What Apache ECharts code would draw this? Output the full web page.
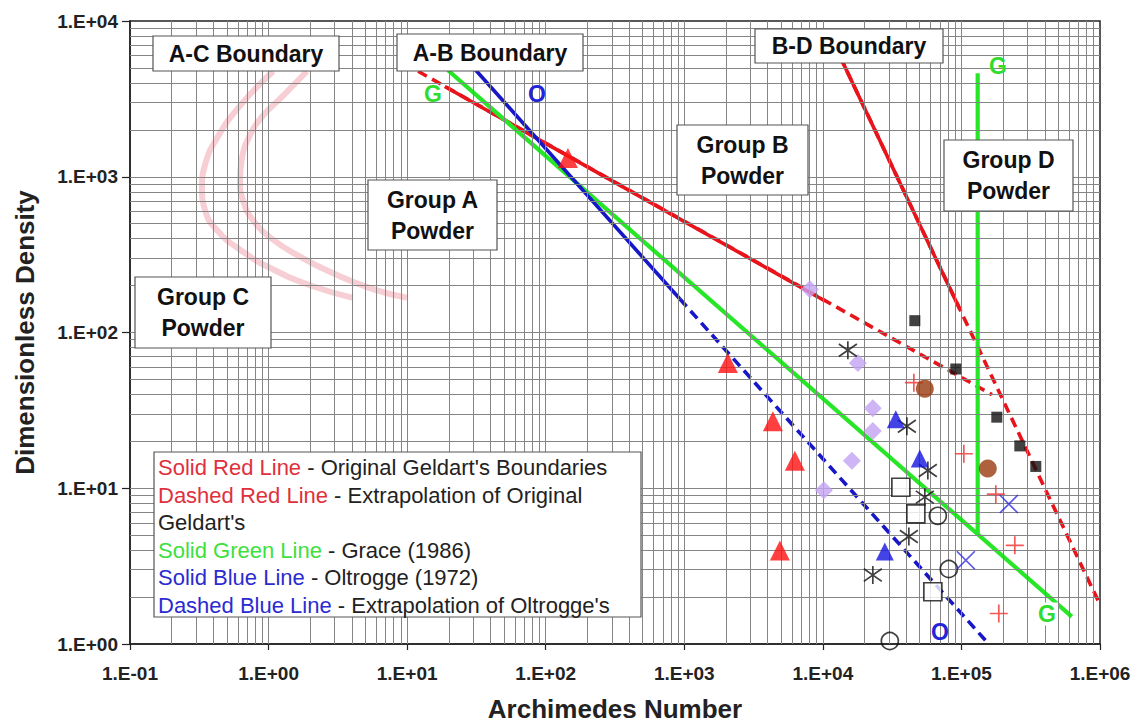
<!DOCTYPE html>
<html><head><meta charset="utf-8">
<script src="https://cdn.jsdelivr.net/npm/echarts@6/dist/echarts.min.js"></script>
<style>html,body{margin:0;padding:0;background:#fff}#c{width:1137px;height:727px}</style>
</head><body><div id="c"></div>
<script>
// ---------- tick labels ----------
const xTickLabels = ['1.E-01','1.E+00','1.E+01','1.E+02','1.E+03','1.E+04','1.E+05','1.E+06'];
const yTickLabels = ['1.E+00','1.E+01','1.E+02','1.E+03','1.E+04'];

// ---------- boundary lines [Archimedes number, dimensionless density] ----------
const acBoundaryLeft  = [[1.08,4755],[0.622,2856],[0.424,1766],[0.348,1191],[0.331,852],[0.348,609],[0.424,455],[0.622,340],[1.08,254],[2.09,198],[4.06,167]];
const acBoundaryRight = [[1.89,4755],[1.27,3304],[0.911,2468],[0.734,1845],[0.643,1319],[0.622,943],[0.654,705],[0.772,527],[1.08,394],[1.69,307],[2.92,240],[5.66,190],[9.97,167]];
const geldartABSolid  = [[18.7,3800],[1.03e4,160]];
const geldartABDashed = [[12.0,4755],[1.66e5,39.9]];
const geldartBDSolid  = [[1.33e4,5920],[9.77e4,140]];
const geldartBDDashed = [[1.33e4,5920],[1.0e6,1.79]];
const oltroggeSolid   = [[27.5,5500],[930,164]];
const oltroggeDashed  = [[930,164],[1.55e5,1.015]];
const graceAB         = [[19.7,4826],[6.26e5,1.50]];
const graceBD         = [[1.31e5,4620],[1.31e5,5.08]];

// ---------- data points ----------
const redTriangles   = [[144.6,1319],[2064,63.6],[4358,26.9],[6281,15.0],[4896,3.99]];
const purpleDiamonds = [[8057,189.8],[1.789e4,63.6],[2.294e4,32.6],[2.294e4,23.3],[1.619e4,15.0],[1.017e4,9.71]];
const blackAsterisks = [[1.515e4,76.9],[4.038e4,25.0],[5.723e4,13.0],[5.443e4,8.77],[4.174e4,4.90],[2.294e4,2.77]];
const openSquares    = [[3.655e4,10.15],[4.688e4,6.85],[6.218e4,2.165]];
const openCircles    = [[6.755e4,6.65],[8.11e4,3.03],[3.044e4,1.045]];
const blueTriangles  = [[3.362e4,27.7],[5.01e4,15.5],[2.801e4,3.93]];
const blueCrosses    = [[2.198e5,7.92],[1.076e5,3.45]];
const redPluses      = [[4.536e4,47.6],[1.041e5,16.65],[1.771e5,9.16],[2.428e5,4.30],[1.861e5,1.57]];
const brownCircles   = [[5.443e4,43.6],[1.55e5,13.4]];
const blackSquares   = [[4.611e4,119.1],[9.11e4,58.3],[1.80e5,28.6],[2.639e5,18.7],[3.441e5,13.8]];

// ---------- text ----------
const regionLabels = [
  {text:'A-C Boundary', box:[153,36,186,35]},
  {text:'A-B Boundary', box:[397,34,186,37]},
  {text:'B-D Boundary', box:[755,29,188,34]},
  {text:'Group A\nPowder', box:[368,180,129,70]},
  {text:'Group B\nPowder', box:[677,125,131,70]},
  {text:'Group C\nPowder', box:[135,277,136,71]},
  {text:'Group D\nPowder', box:[944,140,129,71]}
];
const legendLines = [
  ['{r|Solid Red Line} - Original Geldart\'s Boundaries'],
  ['{r|Dashed Red Line} - Extrapolation of Original'],
  ['Geldart\'s'],
  ['{g|Solid Green Line} - Grace (1986)'],
  ['{b|Solid Blue Line} - Oltrogge (1972)'],
  ['{b|Dashed Blue Line} - Extrapolation of Oltrogge\'s']
];
const lineTags = [
  {t:'G', c:'#2fdc2f', p:[433,94]},
  {t:'O', c:'#2323d8', p:[537,94]},
  {t:'G', c:'#2fdc2f', p:[998,66]},
  {t:'G', c:'#2fdc2f', p:[1047,614], bg:true},
  {t:'O', c:'#2323d8', p:[940,632]}
];

const FONT = 'Liberation Sans, Arial, Helvetica, sans-serif';
const RED = '#e8141c', BLUE = '#1717c8', GREEN = '#27e627';

// grid line values (structural, at 1..9 x 10^n)
const xGrid = [], yGrid = [];
for (let e = -1; e <= 5; e++) for (let m = 1; m <= 9; m++) { const v = m * Math.pow(10, e); if (v > 0.1) xGrid.push(+v.toPrecision(3)); }
for (let e = 0; e <= 3; e++) for (let m = 1; m <= 9; m++) { const v = m * Math.pow(10, e); if (v > 1) yGrid.push(+v.toPrecision(3)); }

const chart = echarts.init(document.getElementById('c'), null, {renderer:'svg'});

function lineSeries(name, data, color, width, dashed, z, smooth) {
  return {name, type:'line', data, symbol:'none', z: z || 3, silent:true, smooth: !!smooth,
    lineStyle:{color, width, type: dashed ? [10,6] : 'solid', cap:'butt'}};
}
function scatter(name, data, symbol, size, style, z) {
  return {name, type:'scatter', data, symbol, symbolSize:size, z: z || 5, silent:true, itemStyle:style};
}

const graphics = [];
regionLabels.forEach(l => {
  const [x,y,w,h] = l.box;
  graphics.push({type:'rect', z:100, shape:{x,y,width:w,height:h}, style:{fill:'#fff', stroke:'#555', lineWidth:1.2}});
  graphics.push({type:'text', z:101, x: x + w/2, y: y + h/2, style:{text:l.text, align:'center', verticalAlign:'middle',
    fontFamily:FONT, fontWeight:'bold', fontSize:23, lineHeight:31, fill:'#111'}});
});
graphics.push({type:'rect', z:100, shape:{x:154,y:452,width:487,height:165}, style:{fill:'#fff', stroke:'#555', lineWidth:1.2}});
const legendY = [467,495,522,550,577,605];
legendLines.forEach((l,i) => {
  const rs = {fontFamily:FONT, fontSize:22};
  graphics.push({type:'text', z:101, x:158, y:legendY[i], style:{text:l[0], align:'left', verticalAlign:'middle',
    fontFamily:FONT, fontSize:22, fill:'#222',
    rich:{r:Object.assign({fill:'#e0303c'},rs), g:Object.assign({fill:'#3ee03e'},rs), b:Object.assign({fill:'#2b2bd0'},rs)}}});
});
lineTags.forEach(t => {
  graphics.push({type:'text', z:90, x:t.p[0], y:t.p[1], style:{text:t.t, align:'center', verticalAlign:'middle',
    fontFamily:FONT, fontWeight:'bold', fontSize:23, fill:t.c,
    backgroundColor: t.bg ? '#fff' : undefined, padding: t.bg ? [0,2] : 0}});
});

const option = {
  animation:false,
  backgroundColor:'#fff',
  grid:{left:130, top:21, width:970, height:632, show:true, borderColor:'#222', borderWidth:1.5, backgroundColor:'transparent'},
  xAxis:{type:'log', min:0.1, max:1e6, logBase:10, splitNumber:7,
    name:'Archimedes Number', nameLocation:'middle', nameGap:52,
    nameTextStyle:{fontFamily:FONT, fontWeight:'bold', fontSize:26, color:'#222'},
    axisLine:{lineStyle:{color:'#222', width:1.5}},
    axisTick:{show:true, length:6, lineStyle:{color:'#222', width:1.2}},
    axisLabel:{margin:20, fontFamily:FONT, fontWeight:'bold', fontSize:19, color:'#222',
      formatter: v => xTickLabels[Math.round(Math.log10(v)) + 1]},
    splitLine:{show:false}},
  yAxis:{type:'log', min:1, max:1e4, logBase:10, splitNumber:4,
    name:'Dimensionless Density', nameLocation:'middle', nameGap:92,
    nameTextStyle:{fontFamily:FONT, fontWeight:'bold', fontSize:26, color:'#222'},
    axisLine:{lineStyle:{color:'#222', width:1.5}},
    axisTick:{show:true, length:8, lineStyle:{color:'#222', width:1.2}},
    axisLabel:{margin:12, fontFamily:FONT, fontWeight:'bold', fontSize:19, color:'#222',
      formatter: v => yTickLabels[Math.round(Math.log10(v))]},
    splitLine:{show:false}},
  graphic: graphics,
  series:[
    {type:'line', data:[], z:1, silent:true,
      markLine:{silent:true, symbol:['none','none'], label:{show:false}, animation:false,
        lineStyle:{color:'#858585', width:1, type:'solid'},
        emphasis:{disabled:true},
        data: xGrid.map(v => ({xAxis:v})).concat(yGrid.map(v => ({yAxis:v})))}},
    lineSeries('A-C Boundary (left)', acBoundaryLeft, 'rgba(232,120,135,0.36)', 6, false, 2, true),
    lineSeries('A-C Boundary (right)', acBoundaryRight, 'rgba(232,120,135,0.36)', 6, false, 2, true),
    lineSeries('Geldart A-B', geldartABSolid, RED, 3.6, false, 3),
    lineSeries('Geldart A-B extrapolation', geldartABDashed, RED, 3.6, true, 3),
    lineSeries('Geldart B-D', geldartBDSolid, RED, 3.6, false, 3),
    lineSeries('Geldart B-D extrapolation', geldartBDDashed, RED, 3.6, true, 3),
    lineSeries('Grace A-B', graceAB, GREEN, 4.2, false, 3),
    lineSeries('Grace B-D', graceBD, GREEN, 4.2, false, 3),
    lineSeries('Oltrogge', oltroggeSolid, BLUE, 3.6, false, 4),
    lineSeries('Oltrogge extrapolation', oltroggeDashed, BLUE, 3.6, true, 4),
    scatter('Red triangles', redTriangles, 'triangle', 20, {color:'#ff1010'}),
    scatter('Purple diamonds', purpleDiamonds, 'diamond', 18, {color:'#c4a2f4'}),
    scatter('Black asterisks', blackAsterisks, 'path://M5,0L5,10M0,1.5L10,8.5M0,8.5L10,1.5', 18, {color:'rgba(0,0,0,0)', borderColor:'#111', borderWidth:1.7}),
    scatter('Open squares', openSquares, 'rect', 18, {color:'#fff', borderColor:'#111', borderWidth:1.7}),
    scatter('Open circles', openCircles, 'circle', 17, {color:'rgba(255,255,255,0)', borderColor:'#111', borderWidth:1.7}),
    scatter('Blue triangles', blueTriangles, 'triangle', 18, {color:'#1515e0'}),
    scatter('Blue crosses', blueCrosses, 'path://M0,0L10,10M0,10L10,0', 18, {color:'rgba(0,0,0,0)', borderColor:'#2a2ae0', borderWidth:1.7}),
    scatter('Red pluses', redPluses, 'path://M5,0L5,10M0,5L10,5', 18, {color:'rgba(0,0,0,0)', borderColor:'#f03030', borderWidth:1.7}),
    scatter('Brown circles', brownCircles, 'circle', 18, {color:'#9a3a0e'}),
    scatter('Black squares', blackSquares, 'rect', 11, {color:'#111'})
  ]
};
chart.setOption(option);
</script></body></html>
